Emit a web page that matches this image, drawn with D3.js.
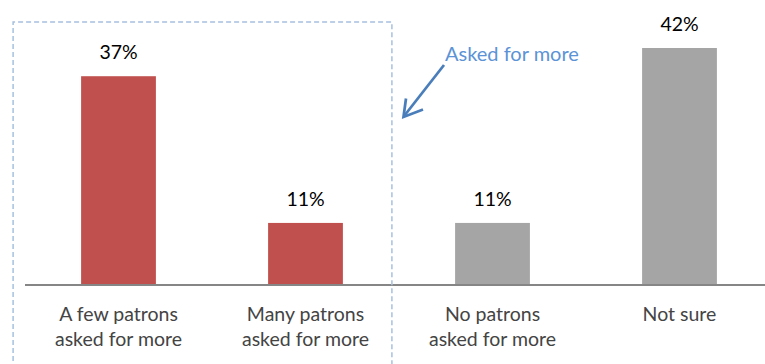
<!DOCTYPE html>
<html>
<head>
<meta charset="utf-8">
<script src="https://cdn.jsdelivr.net/npm/d3@7"></script>
<style>
  html, body { margin: 0; padding: 0; background: #fff; }
  svg { display: block; }
</style>
</head>
<body>
<svg id="chart" width="765" height="364"></svg>
<script>
// Survey responses: did patrons ask for more?
const categories = [
  ["A few patrons", "asked for more"],
  ["Many patrons", "asked for more"],
  ["No patrons", "asked for more"],
  ["Not sure"]
];
const values = [37, 11, 11, 42];
const barColors = ["#c0504d", "#c0504d", "#a5a5a5", "#a5a5a5"];
const calloutText = "Asked for more";

const W = 765, H = 364;
const baseY = 285;
const font = "Lato, 'Open Sans', sans-serif";

const svg = d3.select("#chart");

const x = d3.scaleBand()
  .domain(d3.range(categories.length))
  .range([25, 773])
  .paddingInner(0.6)
  .paddingOuter(0.3);

const y = d3.scaleLinear()
  .domain([0, 42])
  .range([baseY, 48]);

// Bars
svg.append("g").selectAll("rect")
  .data(values)
  .join("rect")
  .attr("x", (d, i) => x(i))
  .attr("width", x.bandwidth())
  .attr("y", d => y(d))
  .attr("height", d => baseY - y(d))
  .attr("fill", (d, i) => barColors[i]);

// Value labels
svg.append("g").selectAll("text")
  .data(values)
  .join("text")
  .attr("x", (d, i) => x(i) + x.bandwidth() / 2)
  .attr("y", d => y(d) - 17)
  .attr("text-anchor", "middle")
  .attr("font-family", font)
  .attr("font-size", 19.5)
  .attr("fill", "#000")
  .text(d => d + "%");

// Category axis (line only, labels drawn below)
const axis = d3.axisBottom(x).tickSize(0).tickFormat("");
const axisG = svg.append("g")
  .attr("transform", `translate(0,${baseY})`)
  .call(axis);
axisG.select(".domain")
  .attr("d", `M25,0H${W}`)
  .attr("stroke", "#868686")
  .attr("stroke-width", 2);

// Two-line category labels
const labelG = svg.append("g");
categories.forEach((lines, i) => {
  const t = labelG.append("text")
    .attr("text-anchor", "middle")
    .attr("font-family", font)
    .attr("font-size", 19.5)
    .attr("fill", "#444");
  lines.forEach((ln, j) => {
    t.append("tspan")
      .attr("x", x(i) + x.bandwidth() / 2)
      .attr("y", 321 + j * 25)
      .text(ln);
  });
});

// Dashed box grouping the "asked for more" answers
const boxLeft = x(0) - 68, boxRight = x(1) + x.bandwidth() + 49;
svg.append("path")
  .attr("d", `M${boxLeft},${H + 5}V22H${boxRight}V${H + 5}`)
  .attr("fill", "none")
  .attr("stroke", "#a7c0e0")
  .attr("stroke-width", 1.5)
  .attr("stroke-dasharray", "5,3");

// Callout with arrow
svg.append("text")
  .attr("x", 445)
  .attr("y", 61)
  .attr("font-family", font)
  .attr("font-size", 20)
  .attr("fill", "#5b93d6")
  .text(calloutText);

const tip = [403.5, 117];
svg.append("line")
  .attr("x1", 444).attr("y1", 65)
  .attr("x2", tip[0] + 1).attr("y2", tip[1] - 1.5)
  .attr("stroke", "#4a7ebb")
  .attr("stroke-width", 2.75);
svg.append("path")
  .attr("d", `M406,98.5L${tip[0]},${tip[1]}L423,109.5`)
  .attr("fill", "none")
  .attr("stroke", "#4a7ebb")
  .attr("stroke-width", 2.75)
  .attr("stroke-linejoin", "miter");
</script>
</body>
</html>
